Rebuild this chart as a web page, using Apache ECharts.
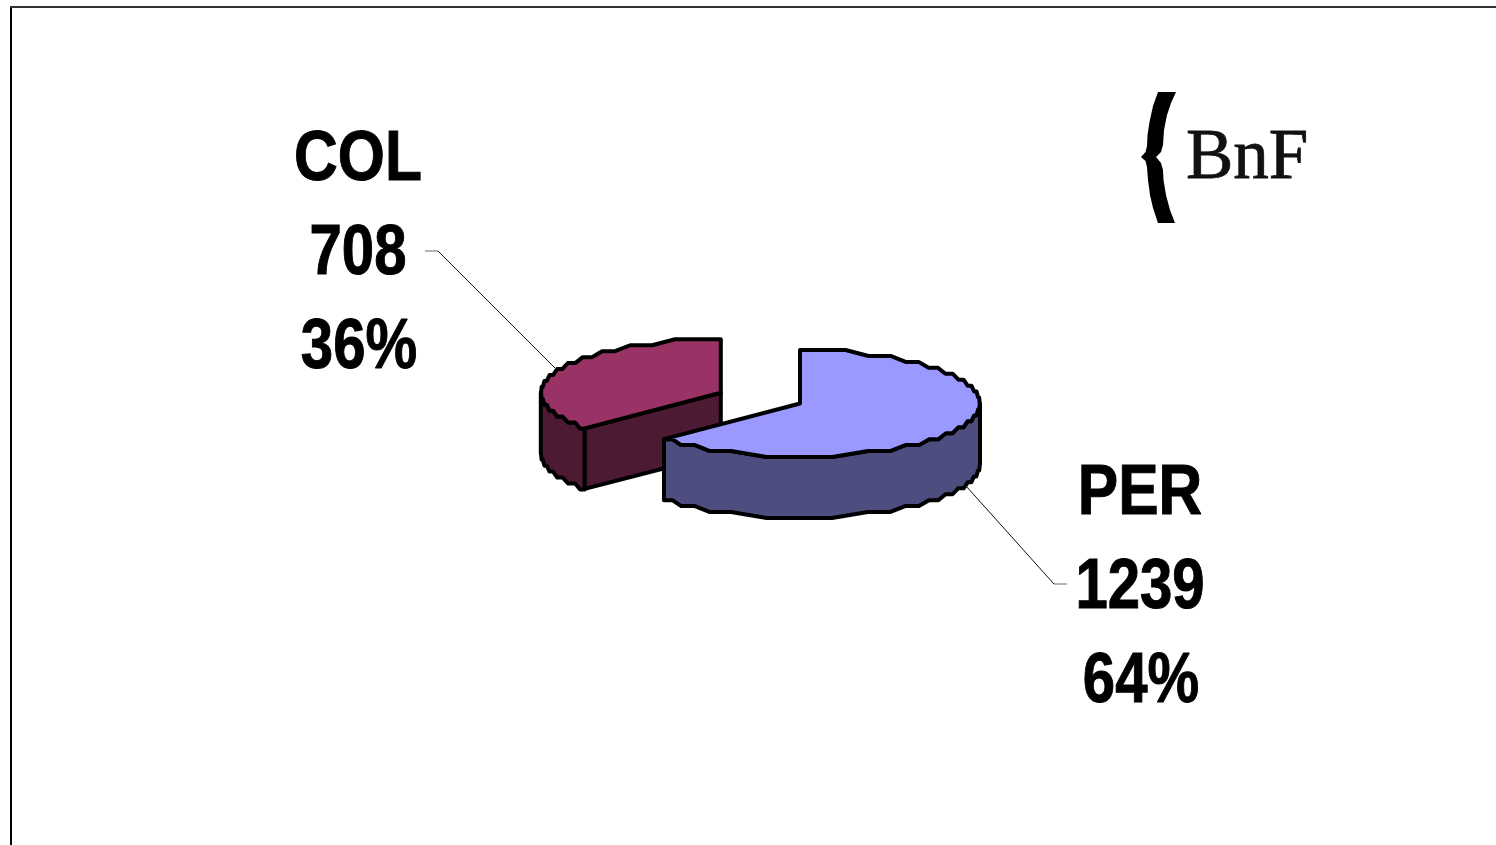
<!DOCTYPE html>
<html lang="fr">
<head>
    <meta charset="UTF-8">
    <title>BnF COL / PER</title>
    <script src="https://cdn.jsdelivr.net/npm/echarts@6/dist/echarts.min.js"></script>
    <style>
        html, body { margin: 0; padding: 0; background: #fff; overflow: hidden; }
        #chart { width: 1496px; height: 845px; }
    </style>
</head>
<body>
<div id="chart"></div>
<script>
    var categories = ['COL', 'PER'];
    var values = [708, 1239];
    var percentLabels = ['36%', '64%'];

    var total = values[0] + values[1];
    // PER starts at 12 o'clock and runs clockwise, COL takes what is left
    var perSweep = values[1] / total * 360;
    var angles = [[perSweep, 360], [0, perSweep]];

    var topColors = ['#993366', '#9999FF'];
    var sideColors = ['#4D1A33', '#4D4D80'];
    // unit disc, the axes squash it into an ellipse
    var explode = [[-0.44, 0.2], [0, 0]];
    var depth = 1.14;

    var chart = echarts.init(document.getElementById('chart'));

    function rad(a) { return a * Math.PI / 180; }

    // the original outline is a low resolution ellipse: snap y to rows, keep a slant between them
    function roughArc(api, cx, cy, from, to, drop) {
        var dense = [];
        var n = Math.max(2, Math.ceil(Math.abs(to - from) * 2));
        for (var i = 0; i <= n; i++) {
            var t = rad(from + (to - from) * i / n);
            dense.push(api.coord([cx + Math.sin(t), cy + Math.cos(t) - drop]));
        }
        var mid = api.coord([cx, cy - drop])[1];
        var step = (mid - api.coord([cx, cy - drop + 1])[1]) / 9;
        function rowOf(p) { return mid + Math.round((p[1] - mid) / step) * step; }

        var out = [[dense[0][0], rowOf(dense[0])]];
        var start = 0;
        for (var j = 1; j <= n + 1; j++) {
            if (j === n + 1 || rowOf(dense[j]) !== rowOf(dense[start])) {
                var a = dense[start], b = dense[j - 1], row = rowOf(a);
                out.push([a[0] + (b[0] - a[0]) * 0.22, row]);
                out.push([a[0] + (b[0] - a[0]) * 0.78, row]);
                start = j;
            }
        }
        out.push([dense[n][0], rowOf(dense[n])]);
        return out;
    }

    function renderSlice(params, api) {
        var idx = api.value(0);
        var from = angles[idx][0], to = angles[idx][1];
        var cx = explode[idx][0], cy = explode[idx][1];
        var center = api.coord([cx, cy]);
        var centerLow = api.coord([cx, cy - depth]);
        var children = [];

        function poly(points, fill) {
            children.push({
                type: 'polygon',
                shape: { points: points },
                style: { fill: fill, stroke: '#000', lineWidth: 4, lineJoin: 'round' }
            });
        }

        // visible part of the rim is the front half, t between 90 and 270
        var a = Math.max(from, 90), b = Math.min(to, 270);
        var upper = roughArc(api, cx, cy, a, b, 0);
        var lower = roughArc(api, cx, cy, a, b, depth);
        poly(upper.concat(lower.reverse()), sideColors[idx]);

        // cut face, only COL shows one
        if (idx === 0) {
            var edge = api.coord([cx + Math.sin(rad(from)), cy + Math.cos(rad(from))]);
            var edgeLow = api.coord([cx + Math.sin(rad(from)), cy + Math.cos(rad(from)) - depth]);
            poly([center, edge, edgeLow, centerLow], sideColors[idx]);
        }

        poly([center].concat(roughArc(api, cx, cy, from, to, 0)), topColors[idx]);
        return { type: 'group', children: children };
    }

    function labelTexts(idx, x, y) {
        var lines = [categories[idx], String(values[idx]), percentLabels[idx]];
        return lines.map(function (txt, i) {
            return {
                type: 'text',
                x: x + (i === 2 ? 1 : 0),
                y: y + i * 94,
                scaleX: i === 0 ? 0.865 : 0.83,
                silent: true,
                style: {
                    text: txt,
                    fill: '#000',
                    stroke: '#000',
                    lineWidth: 1,
                    font: 'bold 70px "Liberation Sans", Arial, sans-serif',
                    textAlign: 'center',
                    textVerticalAlign: 'middle'
                }
            };
        });
    }

    function leader(points, color) {
        return {
            type: 'polyline',
            silent: true,
            shape: { points: points },
            style: { stroke: color, lineWidth: 1, fill: null }
        };
    }

    var graphics = [
        // frame
        { type: 'rect', silent: true, shape: { x: 10, y: 7, width: 2, height: 838 }, style: { fill: '#000' } },
        { type: 'rect', silent: true, shape: { x: 10, y: 6, width: 1486, height: 2 }, style: { fill: '#333' } },
        // leader lines
        leader([[425, 251], [438, 251]], '#666'),
        leader([[438, 251], [555, 368]], '#111'),
        leader([[1067, 584], [1054, 584]], '#666'),
        leader([[1054, 584], [966, 486]], '#111'),
        // BnF logo
        {
            type: 'polygon',
            silent: true,
            shape: {
                points: [[1176, 92], [1158, 92], [1153, 106], [1149.5, 122], [1147.5, 135], [1147, 146], [1145.5, 152],
                    [1141, 157], [1145.5, 161], [1147, 167], [1148, 180], [1150, 195], [1153, 208], [1158, 223],
                    [1175, 223], [1170, 210], [1166, 195], [1163.5, 180], [1163, 170], [1161, 163], [1156, 157],
                    [1161, 152], [1163, 145], [1164, 130], [1167, 115], [1171, 103]]
            },
            style: { fill: '#000' }
        },
        {
            type: 'text',
            silent: true,
            x: 1186,
            y: 159,
            style: {
                text: 'BnF',
                fill: '#111',
                stroke: '#111',
                lineWidth: 0.8,
                font: '71px "Liberation Serif", "Times New Roman", serif',
                textAlign: 'left',
                textVerticalAlign: 'middle'
            }
        }
    ].concat(labelTexts(0, 358, 161), labelTexts(1, 1140, 495));

    chart.setOption({
        backgroundColor: '#fff',
        animation: false,
        grid: { left: 440, top: 296.5, width: 720, height: 267.5 },
        xAxis: { type: 'value', min: -2, max: 2, show: false },
        yAxis: { type: 'value', min: -3, max: 2, show: false },
        graphic: graphics,
        series: [{
            type: 'custom',
            silent: true,
            renderItem: renderSlice,
            data: [[0], [1]],
            encode: { x: [], y: [] },
            clip: false
        }]
    });
</script>
</body>
</html>
